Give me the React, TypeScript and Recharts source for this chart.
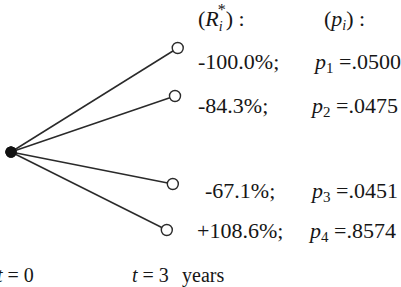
import { LineChart, Line, XAxis, YAxis, Customized } from 'recharts';

// outcomes at t = 3 years
const returns = ['-100.0%;', '-84.3%;', '-67.1%;', '+108.6%;'];
const probs = ['.0500', '.0475', '.0451', '.8574'];
const probIdx = ['1', '2', '3', '4'];

// tree nodes: time (years) and vertical level of each leaf
const rootT = 0;
const rootY = 152;
const leafT = [3.05, 3.0, 2.96, 2.85];
const leafY = [48, 96, 184, 230];

const W = 401;
const H = 287;
const ink = '#161616';
const serif = "'Liberation Serif', 'DejaVu Serif', serif";
const txt = { fontFamily: serif, fontSize: 22, fill: ink };
const foot = { fontFamily: serif, fontSize: 20, fill: ink };

const branches = leafT.map((t, i) => [
  { t: rootT, y: rootY },
  { t, y: leafY[i] },
]);

// label rows (layout only)
const rowY = [62, 106, 191, 231];
const retX = [198, 198, 205, 197];
const probX = [315, 312, 312, 310];

const NodeDot = (props: any) => {
  const { cx, cy, payload } = props;
  if (payload && payload.t === rootT) {
    return <circle cx={cx} cy={cy} r={5.5} fill="#111" stroke="none" />;
  }
  return <circle cx={cx} cy={cy} r={5.5} fill="#fff" stroke="#2a2a2a" strokeWidth={1.4} />;
};

const Labels = () => (
  <g>
    <text x={198} y={26} style={txt}>
      (<tspan fontStyle="italic">R</tspan>
      <tspan fontStyle="italic" fontSize={14} dy={5}>i</tspan>
      <tspan fontSize={16} dx={-5} dy={-16}>*</tspan>
      <tspan dy={11}>) :</tspan>
    </text>
    <text x={324} y={26} style={txt}>
      (<tspan fontStyle="italic">p</tspan>
      <tspan fontStyle="italic" fontSize={14} dy={4}>i</tspan>
      <tspan dy={-4}>) :</tspan>
    </text>
    {returns.map((r, i) => (
      <text key={'r' + i} x={retX[i]} y={rowY[i] + 7} style={txt}>{r}</text>
    ))}
    {probs.map((p, i) => (
      <text key={'p' + i} x={probX[i]} y={rowY[i] + 7} style={txt}>
        <tspan fontStyle="italic">p</tspan>
        <tspan fontSize={15} dy={4}>{probIdx[i]}</tspan>
        <tspan dy={-4}> ={p}</tspan>
      </text>
    ))}
    <text x={-3} y={282} style={foot}>
      <tspan fontStyle="italic">t</tspan> = 0
    </text>
    <text x={132} y={282} style={foot}>
      <tspan fontStyle="italic">t</tspan> = 3
    </text>
    <text x={182} y={282} style={foot}>years</text>
  </g>
);

export default function App() {
  return (
    <div style={{ position: 'absolute', left: 0, top: 0, width: W, height: H, background: '#fff' }}>
      <LineChart width={W} height={H} margin={{ top: 0, right: 0, bottom: 0, left: 0 }}>
        <XAxis type="number" dataKey="t" domain={[-0.2012, 7.134]} hide allowDataOverflow />
        <YAxis type="number" dataKey="y" domain={[0, H]} reversed hide allowDataOverflow />
        {branches.map((d, i) => (
          <Line
            key={i}
            data={d}
            dataKey="y"
            type="linear"
            stroke="#2a2a2a"
            strokeWidth={1.5}
            dot={<NodeDot />}
            activeDot={false}
            isAnimationActive={false}
          />
        ))}
        <Customized component={Labels} />
      </LineChart>
    </div>
  );
}
